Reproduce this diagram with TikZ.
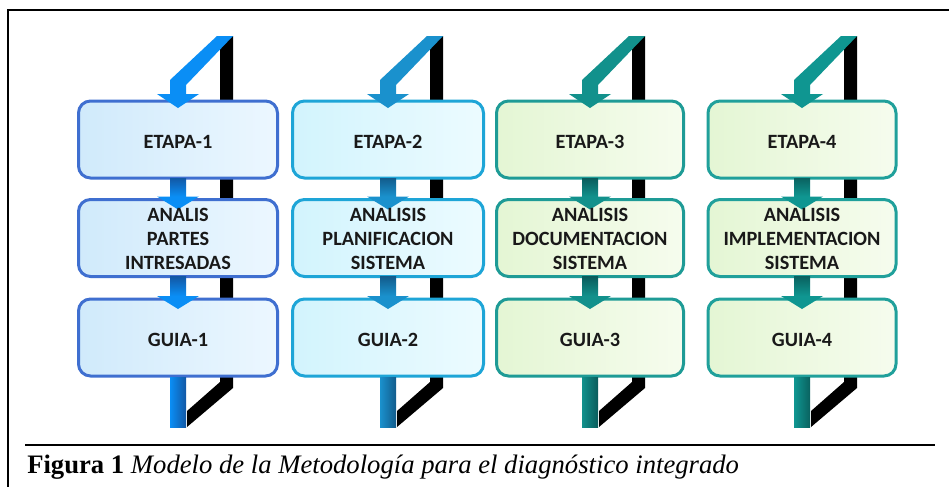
\documentclass[tikz,border=0pt]{standalone}
\usepackage{fontspec}
\setmainfont{Liberation Serif}
\newfontfamily\boxfont{Carlito}
\usetikzlibrary{calc}
\definecolor{arr1}{RGB}{10,142,245}
\definecolor{dk1}{RGB}{18,88,165}
\definecolor{bd1}{RGB}{63,111,208}
\definecolor{fa1}{RGB}{208,234,251}
\definecolor{fb1}{RGB}{236,247,255}
\definecolor{arr2}{RGB}{26,145,205}
\definecolor{dk2}{RGB}{18,92,140}
\definecolor{bd2}{RGB}{30,165,215}
\definecolor{fa2}{RGB}{210,244,253}
\definecolor{fb2}{RGB}{236,251,255}
\definecolor{arr3}{RGB}{18,145,140}
\definecolor{dk3}{RGB}{10,92,92}
\definecolor{bd3}{RGB}{30,155,150}
\definecolor{fa3}{RGB}{228,246,212}
\definecolor{fb3}{RGB}{246,252,238}
\definecolor{arr4}{RGB}{15,150,145}
\definecolor{dk4}{RGB}{10,98,96}
\definecolor{bd4}{RGB}{32,160,155}
\definecolor{fa4}{RGB}{228,246,212}
\definecolor{fb4}{RGB}{246,252,238}
\tikzset{
  stage/.style={draw=bd#1, left color=fa#1, right color=fb#1, line width=2.25pt,
    rounded corners=9pt, inner sep=0pt, outer sep=0pt, minimum height=57.75pt},
  boxtext/.style={font=\boxfont\bfseries\fontsize{15.2}{18}\selectfont, align=center,
    text=black!90, inner sep=0pt},
}
\begin{document}
\begin{tikzpicture}[x=0.75pt,y=-0.75pt]
\useasboundingbox (0,0) rectangle (949,487);
\fill[white] (0,0) rectangle (949,487);
\draw[line width=1.5pt] (7,10) -- (949,10);
\draw[line width=1.5pt] (8,10) -- (8,487);
\foreach \i/\c/\w in {1/178/149.25pt, 2/388/143.25pt, 3/590/140.25pt, 4/802/141pt}{
  % black back bar
  \fill[black] ({\c+42},36) -- ({\c+55},36) -- ({\c+55},388) -- ({\c+9},427)
     -- ({\c+9},411) -- ({\c+42},382) -- cycle;
  % boxes
  \node[stage=\i, minimum width=\w] (e\i) at (\c,139.5) {};
  \node[stage=\i, minimum width=\w] (a\i) at (\c,238) {};
  \node[stage=\i, minimum width=\w] (g\i) at (\c,337.5) {};
  % top entry arrow
  \fill[arr\i] ({\c+39},36) -- ({\c+55},36) -- ({\c+8},85)
     -- ($(e\i.north)+(8,-7)$) -- ($(e\i.north)+(21,-7)$) -- ($(e\i.north)+(0,7)$)
     -- ($(e\i.north)+(-21,-7)$) -- ($(e\i.north)+(-8,-7)$) -- ({\c-8},80) -- cycle;
  % arrows between boxes
  \shade[top color=dk\i, bottom color=arr\i] ($(e\i.south)+(-8,0)$) rectangle ($(a\i.north)+(8,-3)$);
  \fill[arr\i] ($(a\i.north)+(-21,-3)$) -- ($(a\i.north)+(21,-3)$) -- ($(a\i.north)+(0,10)$) -- cycle;
  \shade[top color=dk\i, bottom color=arr\i] ($(a\i.south)+(-8,0)$) rectangle ($(g\i.north)+(8,-3)$);
  \fill[arr\i] ($(g\i.north)+(-21,-3)$) -- ($(g\i.north)+(21,-3)$) -- ($(g\i.north)+(0,10)$) -- cycle;
  % exit stub
  \shade[left color=arr\i, middle color=arr\i!60!white, right color=dk\i]
     ($(g\i.south)+(-8,1)$) rectangle ($(g\i.south)+(8,51)$);
}
\foreach \i/\ta/\tb/\tc in {1/ETAPA-1/{ANALIS\\PARTES\\INTRESADAS}/GUIA-1,
  2/ETAPA-2/{ANALISIS\\PLANIFICACION\\SISTEMA}/GUIA-2,
  3/ETAPA-3/{ANALISIS\\DOCUMENTACION\\SISTEMA}/GUIA-3,
  4/ETAPA-4/{ANALISIS\\IMPLEMENTACION\\SISTEMA}/GUIA-4}{
  \node[boxtext] (te\i) at ($(e\i.center)+(0,2)$) {\ta};
  \node[boxtext] (ta\i) at ($(a\i.center)+(0,1)$) {\tb};
  \node[boxtext] (tg\i) at ($(g\i.center)+(0,2)$) {\tc};
}
\draw[line width=1.2pt] (25,445) -- (935,445);
\node[anchor=base west, inner sep=0pt, font=\fontsize{20}{23}\selectfont] (cap) at (27,473)
  {\textbf{Figura 1} \textit{Modelo de la Metodología para el diagnóstico integrado}};
\end{tikzpicture}
\end{document}
